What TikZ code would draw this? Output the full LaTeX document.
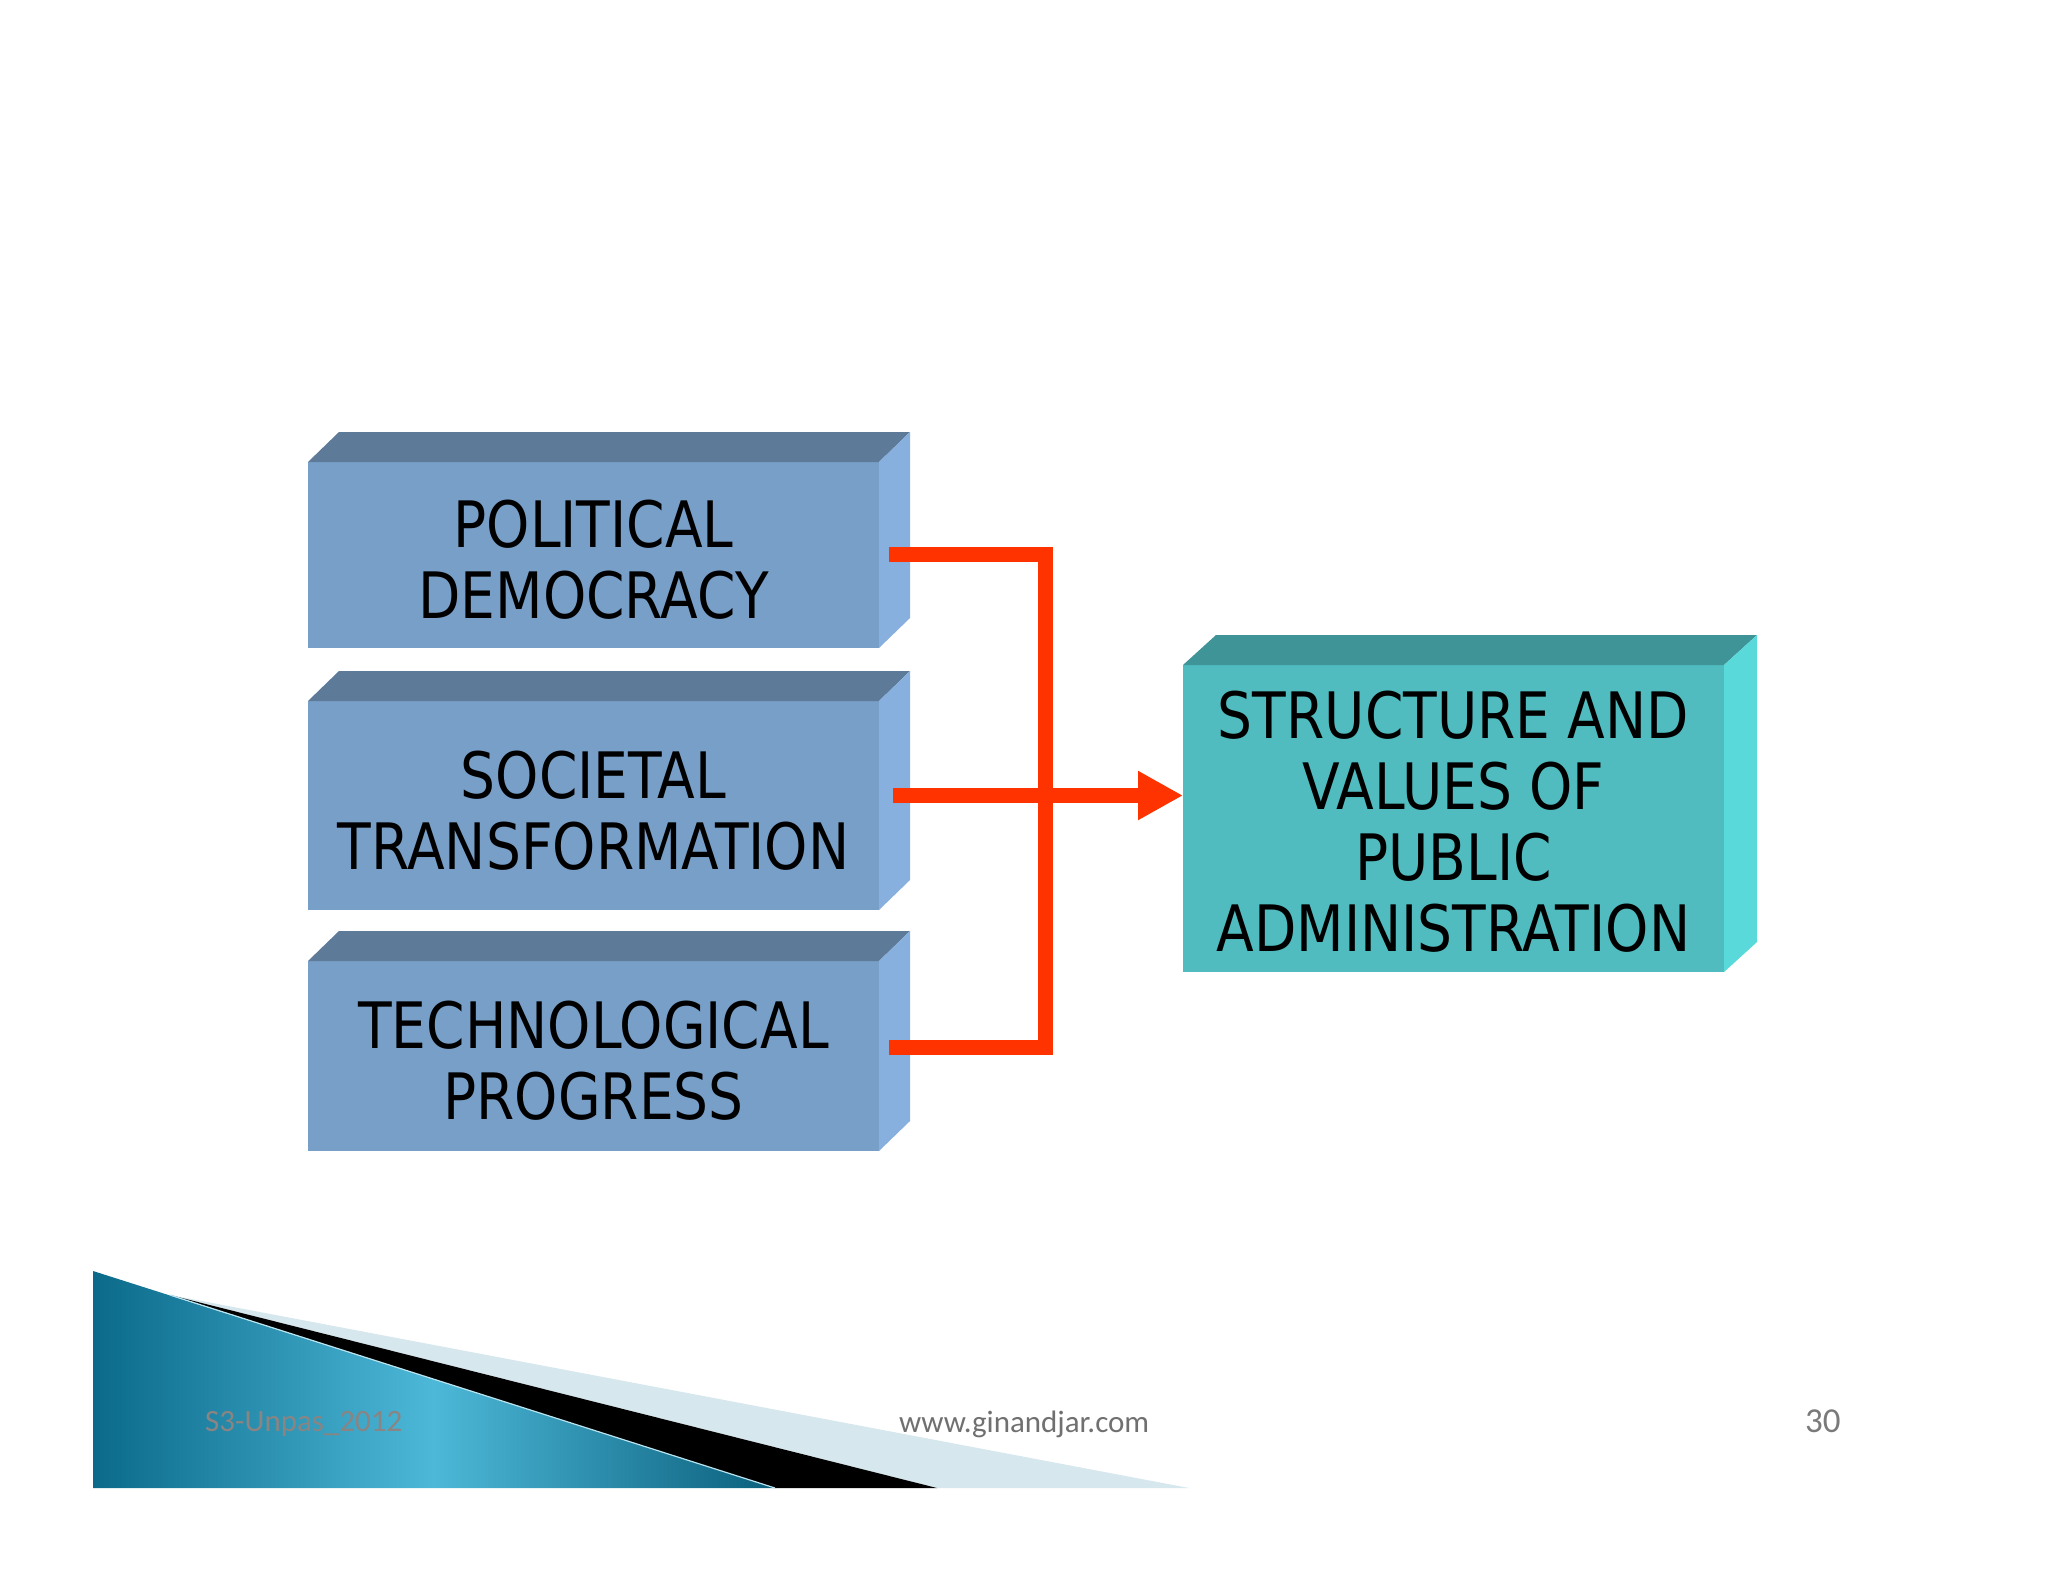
\documentclass[tikz,border=0pt]{standalone}
\usepackage{fontspec}
\usetikzlibrary{arrows.meta}
\newfontfamily\boxfont[FakeStretch=0.86]{DejaVu Sans}
\newfontfamily\footfont{Carlito}
\definecolor{frontB}{HTML}{789FC8}
\definecolor{topB}{HTML}{5E7A99}
\definecolor{sideB}{HTML}{88B0DE}
\definecolor{frontT}{HTML}{50BCC0}
\definecolor{topT}{HTML}{3F9497}
\definecolor{sideT}{HTML}{5AD9DB}
\definecolor{redL}{HTML}{FF3300}
\definecolor{tealD}{HTML}{0B6A8A}
\definecolor{tealL}{HTML}{4DB8D8}
\definecolor{paleB}{HTML}{D6E7EE}
\definecolor{footgray}{HTML}{8A8482}
\newcommand\threedbox[5]{% name, dx, dy, top colour, side colour
  \fill[#4] (#1.north west) -- ++(#2,-#3) -- ([xshift=#2pt,yshift=#3pt]#1.north east) -- (#1.north east) -- cycle;
  \fill[#5] (#1.north east) -- ([xshift=#2pt,yshift=#3pt]#1.north east) -- ([xshift=#2pt,yshift=#3pt]#1.south east) -- (#1.south east) -- cycle;
}
\newcommand\lowerstrut{\rule{0pt}{57pt}}
\begin{document}
\begin{tikzpicture}[x=1pt,y=-1pt,
  face/.style={inner sep=0pt, outer sep=0pt, align=center, text=black,
    font=\boxfont\fontsize{64}{71}\selectfont},
  blueface/.style={face, fill=frontB, minimum width=571pt},
  tealface/.style={face, fill=frontT, minimum width=541pt, minimum height=307pt},
  redline/.style={draw=redL, line width=15pt, line join=miter},
  foot/.style={font=\footfont\fontsize{31}{36}\selectfont, inner sep=0pt}
]
\useasboundingbox (0,0) rectangle (2048,1582);
\fill[white] (0,0) rectangle (2048,1582);

% footer decoration
\coordinate (fA) at (93,1271);
\coordinate (fP) at (170,1295);
\coordinate (fC) at (775,1488);
\coordinate (fD) at (937,1488);
\coordinate (fE) at (1189,1488);
\coordinate (fF) at (93,1488);
\fill[paleB] (fP) -- (fE) -- (fD) -- cycle;
\fill[black] (fP) -- (fD) -- (fC) -- cycle;
\shade[left color=tealD, right color=tealD!90!black, middle color=tealL]
  (fA) -- (fC) -- (fF) -- cycle;
\draw[white!60!tealL, line width=1.2pt] (fP) -- (fC);

\node[foot, text=footgray, anchor=west] (f1) at (205,1424) {S3-Unpas\_2012};
\node[foot, text=black!56, anchor=west] (f2) at (899,1424) {www.ginandjar.com};
\node[foot, text=black!52, anchor=west, font=\footfont\fontsize{35}{40}\selectfont] (f3) at (1805,1421) {30};

% boxes
\node[blueface, minimum height=186pt] (b1) at (593.5,555) {\lowerstrut POLITICAL\\DEMOCRACY};
\node[blueface, minimum height=209pt] (b2) at (593.5,805.5) {\lowerstrut SOCIETAL\\TRANSFORMATION};
\node[blueface, minimum height=190pt] (b3) at (593.5,1056) {\lowerstrut TECHNOLOGICAL\\PROGRESS};
\node[tealface] (out) at (1453.5,818.5) {\rule{0pt}{54pt}STRUCTURE AND\\VALUES OF\\PUBLIC\\ADMINISTRATION};
\threedbox{b1}{31}{30}{topB}{sideB}
\threedbox{b2}{31}{30}{topB}{sideB}
\threedbox{b3}{31}{30}{topB}{sideB}
\threedbox{out}{33}{30}{topT}{sideT}

% connectors
\coordinate (jx) at (1045,0);
\coordinate (s1) at ([xshift=10pt,yshift=1pt]b1.east);
\coordinate (s3) at ([xshift=10pt,yshift=9pt]b3.east);
\coordinate (s2) at ([xshift=14pt,yshift=10pt]b2.east);
\draw[redline] (s1) -- (s1 -| jx) -- (s3 -| jx) -- (s3);
\draw[redline, -{Triangle[length=45pt,width=46pt]}] (s2) -- (s2 -| out.west);
\end{tikzpicture}
\end{document}
